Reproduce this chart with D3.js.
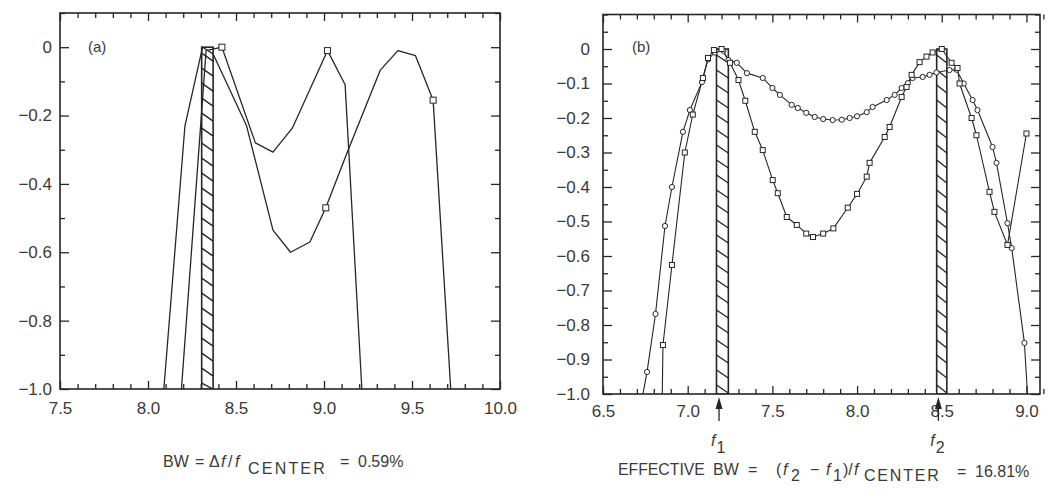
<!DOCTYPE html>
<html><head><meta charset="utf-8">
<script src="https://cdn.jsdelivr.net/npm/d3@7"></script>
<style>
html,body{margin:0;padding:0;background:#fff;}
svg{display:block;font-family:"Liberation Sans", Arial, sans-serif;}
</style></head><body>
<svg id="chart" width="1048" height="491"></svg>
<script>
// ---------- Panel (a) data ----------
const aTicksX = [7.5, 8.0, 8.5, 9.0, 9.5, 10.0];
const aTicksY = [0, -0.2, -0.4, -0.6, -0.8, -1.0];
const aWideX = [8.09, 8.21, 8.31, 8.37, 8.56, 8.71, 8.81, 8.92, 9.01, 9.13, 9.32, 9.42, 9.52, 9.62, 9.72];
const aWideY = [-1.0, -0.23, 0.0, -0.02, -0.23, -0.535, -0.60, -0.57, -0.47, -0.31, -0.067, -0.01, -0.025, -0.155, -1.0];
const aNarrowX = [8.19, 8.33, 8.42, 8.61, 8.71, 8.82, 9.02, 9.12, 9.215];
const aNarrowY = [-1.0, -0.01, 0.0, -0.28, -0.307, -0.237, -0.01, -0.11, -1.0];
const aMarkX = [8.42, 9.02, 9.01, 9.62];
const aMarkY = [0.0, -0.01, -0.47, -0.155];
const aBand = [8.305, 8.37];

// ---------- Panel (b) data ----------
const bTicksX = [6.5, 7.0, 7.5, 8.0, 8.5, 9.0];
const bTicksY = [0, -0.1, -0.2, -0.3, -0.4, -0.5, -0.6, -0.7, -0.8, -0.9, -1.0];
const bCircX = [6.736, 6.76, 6.81, 6.866, 6.907, 6.972, 7.013, 7.084, 7.12, 7.16, 7.21, 7.24, 7.29, 7.35, 7.443, 7.50, 7.544, 7.614, 7.65, 7.70, 7.75, 7.80, 7.856, 7.91, 7.956, 8.0, 8.057, 8.092, 8.175, 8.222, 8.263, 8.30, 8.328, 8.387, 8.428, 8.469, 8.546, 8.587, 8.63, 8.682, 8.711, 8.80, 8.823, 8.888, 8.913, 8.988, 9.006];
const bCircY = [-1.0, -0.936, -0.768, -0.513, -0.40, -0.24, -0.177, -0.096, -0.03, -0.01, -0.005, -0.032, -0.04, -0.07, -0.084, -0.113, -0.133, -0.162, -0.171, -0.185, -0.197, -0.203, -0.206, -0.205, -0.20, -0.195, -0.183, -0.168, -0.148, -0.133, -0.113, -0.099, -0.084, -0.081, -0.075, -0.068, -0.061, -0.06, -0.10, -0.148, -0.177, -0.284, -0.33, -0.505, -0.577, -0.852, -1.0];
const bSqX = [6.85, 6.854, 6.907, 6.983, 7.03, 7.09, 7.12, 7.155, 7.20, 7.25, 7.30, 7.34, 7.396, 7.443, 7.502, 7.532, 7.585, 7.644, 7.70, 7.74, 7.80, 7.86, 7.945, 8.00, 8.057, 8.074, 8.163, 8.192, 8.263, 8.292, 8.322, 8.369, 8.41, 8.446, 8.50, 8.558, 8.593, 8.605, 8.676, 8.705, 8.782, 8.811, 8.888, 9.0];
const bSqY = [-1.0, -0.858, -0.626, -0.30, -0.19, -0.084, -0.026, -0.003, 0.0, -0.04, -0.09, -0.15, -0.24, -0.293, -0.38, -0.418, -0.487, -0.51, -0.535, -0.545, -0.535, -0.52, -0.46, -0.42, -0.37, -0.33, -0.255, -0.226, -0.139, -0.11, -0.075, -0.038, -0.022, -0.01, 0.0, -0.04, -0.055, -0.10, -0.20, -0.25, -0.414, -0.472, -0.568, -0.245];
const bBands = [[7.17, 7.24], [8.47, 8.53]];
const bArrows = [7.185, 8.48];
const bArrowLabels = ["1", "2"];

const INK = "#262626";
const TXT = "#3a3a3a";
const FONT = '"Liberation Sans", Arial, sans-serif';
const svg = d3.select("#chart");

function zip(xs, ys) { return xs.map((v, i) => [v, ys[i]]); }
function minorVals(lo, hi, step, majors) {
  const n = Math.round((hi - lo) / step);
  return d3.range(n + 1).map(i => +(lo + i * step).toFixed(3))
    .filter(v => !majors.some(m => Math.abs(m - v) < 1e-6));
}

function panel(opt) {
  const g = svg.append("g");
  const x = d3.scaleLinear().domain(opt.xDom).range(opt.xRange);
  const y = d3.scaleLinear().domain(opt.yDom).range(opt.yRange);
  const [L, R] = opt.xRange, [B, T] = opt.yRange;
  const fmtY = v => v === 0 ? "0" : d3.format(".1f")(v);
  const xMinor = minorVals(opt.xDom[0], opt.xDom[1], 0.1, opt.xMajor);
  const yMinor = minorVals(-1.0, 0.1, opt.yMinorStep, opt.yMajor);

  const axes = [
    [d3.axisBottom(x).tickValues(opt.xMajor).tickSize(-8).tickPadding(opt.xPad).tickFormat(d3.format(".1f")), `translate(0,${B})`],
    [d3.axisBottom(x).tickValues(xMinor).tickSize(-5).tickFormat(""), `translate(0,${B})`],
    [d3.axisTop(x).tickValues(opt.xMajor).tickSize(-8).tickFormat(""), `translate(0,${T})`],
    [d3.axisTop(x).tickValues(xMinor).tickSize(-5).tickFormat(""), `translate(0,${T})`],
    [d3.axisLeft(y).tickValues(opt.yMajor).tickSize(-9).tickPadding(opt.yPad).tickFormat(fmtY), `translate(${L},0)`],
    [d3.axisLeft(y).tickValues(yMinor).tickSize(-5).tickFormat(""), `translate(${L},0)`],
    [d3.axisRight(y).tickValues(opt.yMajor).tickSize(-9).tickFormat(""), `translate(${R},0)`],
    [d3.axisRight(y).tickValues(yMinor).tickSize(-5).tickFormat(""), `translate(${R},0)`]
  ];
  axes.forEach(([ax, tr]) => {
    const a = g.append("g").attr("transform", tr).call(ax);
    a.select(".domain").remove();
    a.selectAll("line").attr("stroke", INK).attr("stroke-width", 1.3);
    a.selectAll("text").attr("fill", TXT).style("font-size", "17px").style("font-family", FONT);
  });

  const clipId = "clip" + opt.id;
  svg.append("clipPath").attr("id", clipId).append("rect")
    .attr("x", L).attr("y", T).attr("width", R - L).attr("height", B - T);
  const plot = g.append("g").attr("clip-path", `url(#${clipId})`);

  // hatched bands
  opt.bands.forEach(([b0, b1]) => {
    const x0 = x(b0), x1 = x(b1), top = y(0);
    plot.append("rect").attr("x", x0).attr("y", top).attr("width", x1 - x0).attr("height", B - top)
      .attr("fill", "#fff").attr("stroke", INK).attr("stroke-width", 1.6);
    const step = 15, drop = 8;
    d3.range(top + 6, B - 2, step).forEach(yy => {
      plot.append("line").attr("x1", x0).attr("y1", yy).attr("x2", x1).attr("y2", Math.min(yy + drop, B))
        .attr("stroke", INK).attr("stroke-width", 1.4);
    });
  });

  const line = d3.line().x(d => x(d[0])).y(d => y(d[1]));
  opt.series.forEach(s => {
    plot.append("path").datum(s.pts).attr("d", line)
      .attr("fill", "none").attr("stroke", INK).attr("stroke-width", s.w || 1.3).attr("stroke-linejoin", "round");
  });
  opt.series.forEach(s => {
    const pts = s.marks || (s.marker ? s.pts.filter(d => d[1] > -0.999) : []);
    if (s.marker === "circle") {
      plot.selectAll(null).data(pts).join("circle")
        .attr("cx", d => x(d[0])).attr("cy", d => y(d[1])).attr("r", 2.6)
        .attr("fill", "#fff").attr("stroke", INK).attr("stroke-width", 1);
    } else if (s.marker === "square") {
      const sz = s.size || 5;
      plot.selectAll(null).data(pts).join("rect")
        .attr("x", d => x(d[0]) - sz / 2).attr("y", d => y(d[1]) - sz / 2)
        .attr("width", sz).attr("height", sz)
        .attr("fill", "#fff").attr("stroke", INK).attr("stroke-width", 1);
    }
  });

  g.append("rect").attr("x", L).attr("y", T).attr("width", R - L).attr("height", B - T)
    .attr("fill", "none").attr("stroke", INK).attr("stroke-width", 1.6);

  g.append("text").attr("x", opt.tag[0]).attr("y", opt.tag[1]).text(opt.tagText)
    .attr("fill", TXT).style("font-size", "15px");
  return { x, y, g };
}

// Panel (a)
panel({
  id: "a", xDom: [7.5, 10.0], xRange: [60, 500], yDom: [-1.0, 0.1], yRange: [389, 13],
  xMajor: aTicksX, yMajor: aTicksY, yMinorStep: 0.1, xPad: 13, yPad: 8,
  bands: [aBand],
  series: [
    { pts: zip(aWideX, aWideY) },
    { pts: zip(aNarrowX, aNarrowY) },
    { pts: [], marker: "square", size: 6, marks: zip(aMarkX, aMarkY) }
  ],
  tag: [88, 52], tagText: "(a)"
});

// Panel (b)
const pb = panel({
  id: "b", xDom: [6.5, 9.08], xRange: [603, 1040], yDom: [-1.0, 0.1], yRange: [394, 14.5],
  xMajor: bTicksX, yMajor: bTicksY, yMinorStep: 0.05, xPad: 11, yPad: 13,
  bands: bBands,
  series: [
    { pts: zip(bCircX, bCircY), marker: "circle", w: 1.1 },
    { pts: zip(bSqX, bSqY), marker: "square", w: 1.1 }
  ],
  tag: [632, 52], tagText: "(b)"
});

// arrows f1, f2
bArrows.forEach((f, i) => {
  const px = pb.x(f);
  svg.append("line").attr("x1", px).attr("x2", px).attr("y1", 421).attr("y2", 404)
    .attr("stroke", INK).attr("stroke-width", 1.3);
  svg.append("path").attr("d", `M${px},397 L${px - 3.5},409 L${px + 3.5},409 Z`).attr("fill", INK);
  const t = svg.append("text").attr("x", px - 8).attr("y", 446).attr("fill", TXT).style("font-size", "16px");
  t.append("tspan").text("f").style("font-style", "italic");
  t.append("tspan").attr("dy", 7).attr("dx", 1).text(bArrowLabels[i]);
});

// captions: pieces placed like the original typesetting
function caption(pieces) {
  pieces.forEach(p => {
    const t = svg.append("text").attr("x", p.x).attr("y", p.y).attr("fill", TXT)
      .style("font-size", (p.fs || 16) + "px").text(p.t);
    if (p.it) t.style("font-style", "italic");
    if (p.ls) t.style("letter-spacing", p.ls + "px");
  });
}
caption([
  { t: "BW", x: 163, y: 467 },
  { t: "=", x: 195, y: 467 },
  { t: "Δ", x: 209, y: 467 },
  { t: "f", x: 221, y: 467, it: true },
  { t: "/", x: 228, y: 467 },
  { t: "f", x: 235, y: 467, it: true },
  { t: "CENTER", x: 248, y: 474, ls: 2.2 },
  { t: "=", x: 340, y: 467 },
  { t: "0.59%", x: 358, y: 467 },

  { t: "EFFECTIVE", x: 618, y: 475, fs: 15.8 },
  { t: "BW", x: 713, y: 475 },
  { t: "=", x: 748, y: 475 },
  { t: "(", x: 776, y: 475 },
  { t: "f", x: 783, y: 475, it: true },
  { t: "2", x: 791, y: 481 },
  { t: "−", x: 810, y: 475 },
  { t: "f", x: 826, y: 475, it: true },
  { t: "1", x: 833, y: 481 },
  { t: ")/", x: 843, y: 475 },
  { t: "f", x: 854, y: 475, it: true },
  { t: "CENTER", x: 864, y: 481, ls: 1.8 },
  { t: "=", x: 957, y: 477 },
  { t: "16.81%", x: 975, y: 477 }
]);
</script>
</body></html>
